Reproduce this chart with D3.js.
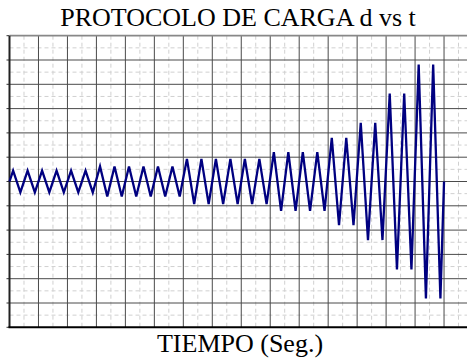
<!DOCTYPE html>
<html>
<head>
<meta charset="utf-8">
<title>PROTOCOLO DE CARGA d vs t</title>
<script src="https://cdn.jsdelivr.net/npm/d3@7"></script>
<style>
body { margin: 0; background: #fff; }
.titulo, .etiqueta { font-family: "Liberation Serif", "Times New Roman", serif; fill: #000; }
</style>
</head>
<body>
<script>
var width = 467;
var height = 360;

// tiempo (s) de cada vertice de la curva
var tiempo = [0,
  0.25,0.75,1.25,1.75,2.25,2.75,3.25,3.75,4.25,4.75,5.25,5.75,
  6.25,6.75,7.25,7.75,8.25,8.75,9.25,9.75,10.25,10.75,11.25,11.75,
  12.25,12.75,13.25,13.75,14.25,14.75,15.25,15.75,16.25,16.75,17.25,17.75,
  18.25,18.75,19.25,19.75,20.25,20.75,21.25,21.75,
  22.25,22.75,23.25,23.75,
  24.25,24.75,25.25,25.75,
  26.25,26.75,27.25,27.75,
  28.25,28.75,29.25,29.75,
  30];

// desplazamiento d en cada vertice
var desplazamiento = [0,
  0.45,-0.45,0.45,-0.45,0.45,-0.45,0.45,-0.45,0.45,-0.45,0.45,-0.45,
  0.62,-0.62,0.62,-0.62,0.62,-0.62,0.62,-0.62,0.62,-0.62,0.62,-0.62,
  0.93,-0.93,0.93,-0.93,0.93,-0.93,0.93,-0.93,0.93,-0.93,0.93,-0.93,
  1.21,-1.21,1.21,-1.21,1.21,-1.21,1.21,-1.21,
  1.8,-1.8,1.8,-1.8,
  2.41,-2.41,2.41,-2.41,
  3.62,-3.62,3.62,-3.62,
  4.81,-4.81,4.81,-4.81,
  0];

var xDominio = [0, 32];
var yDominio = [-6, 6];

var mIzq = 9.5, mSup = 35.7, mInf = 327.3, mDer = 473;

var svg = d3.select('body').append('svg').attr('width', width).attr('height', height);

var x = d3.scaleLinear().domain(xDominio).range([mIzq, mDer]);
var y = d3.scaleLinear().domain(yDominio).range([mInf, mSup]);

var xMayor = d3.range(xDominio[0], xDominio[1] + 0.01, 2);
var xMenor = d3.range(xDominio[0] + 1, xDominio[1], 2);
var yMayor = d3.range(yDominio[0], yDominio[1] + 0.01, 1);
var yMenor = d3.range(yDominio[0] + 0.5, yDominio[1], 1);

// rejilla menor (discontinua)
svg.append('g').selectAll('line').data(xMenor).enter().append('line')
  .attr('x1', d => x(d)).attr('x2', d => x(d)).attr('y1', mSup).attr('y2', mInf)
  .attr('stroke', '#d0d0d0').attr('stroke-dasharray', '4,3');
svg.append('g').selectAll('line').data(yMenor).enter().append('line')
  .attr('x1', mIzq).attr('x2', width).attr('y1', d => y(d)).attr('y2', d => y(d))
  .attr('stroke', '#d0d0d0').attr('stroke-dasharray', '4,3');

// rejilla mayor
svg.append('g').selectAll('line').data(xMayor.slice(1)).enter().append('line')
  .attr('x1', d => x(d)).attr('x2', d => x(d)).attr('y1', mSup).attr('y2', mInf)
  .attr('stroke', '#4a4a4a').attr('stroke-width', 1);
svg.append('g').selectAll('line').data(yMayor.slice(1, -1)).enter().append('line')
  .attr('x1', mIzq).attr('x2', width).attr('y1', d => y(d)).attr('y2', d => y(d))
  .attr('stroke', '#4a4a4a').attr('stroke-width', 1);

// marcas a la izquierda
svg.append('g').selectAll('line').data(yMayor).enter().append('line')
  .attr('x1', mIzq - 3).attr('x2', mIzq).attr('y1', d => y(d)).attr('y2', d => y(d))
  .attr('stroke', '#333').attr('stroke-width', 1);

// marco
svg.append('line').attr('x1', mIzq).attr('x2', width).attr('y1', mSup).attr('y2', mSup)
  .attr('stroke', '#888').attr('stroke-width', 1.8);
svg.append('line').attr('x1', mIzq).attr('x2', mIzq).attr('y1', mSup).attr('y2', mInf)
  .attr('stroke', '#222').attr('stroke-width', 2);
svg.append('line').attr('x1', mIzq - 1).attr('x2', width).attr('y1', mInf).attr('y2', mInf)
  .attr('stroke', '#000').attr('stroke-width', 2);

// curva d vs t
var puntos = tiempo.map((t, i) => [t, desplazamiento[i]]);
var linea = d3.line().x(d => x(d[0])).y(d => y(d[1]));
svg.append('path').datum(puntos)
  .attr('d', linea)
  .attr('fill', 'none')
  .attr('stroke', '#000080')
  .attr('stroke-width', 2.3)
  .attr('stroke-linejoin', 'miter');

svg.append('text').attr('class', 'titulo')
  .attr('x', 238).attr('y', 26)
  .attr('text-anchor', 'middle')
  .style('font-size', '26px')
  .text('PROTOCOLO DE CARGA d vs t');

svg.append('text').attr('class', 'etiqueta')
  .attr('x', 240).attr('y', 352)
  .attr('text-anchor', 'middle')
  .style('font-size', '26px')
  .text('TIEMPO (Seg.)');
</script>
</body>
</html>
